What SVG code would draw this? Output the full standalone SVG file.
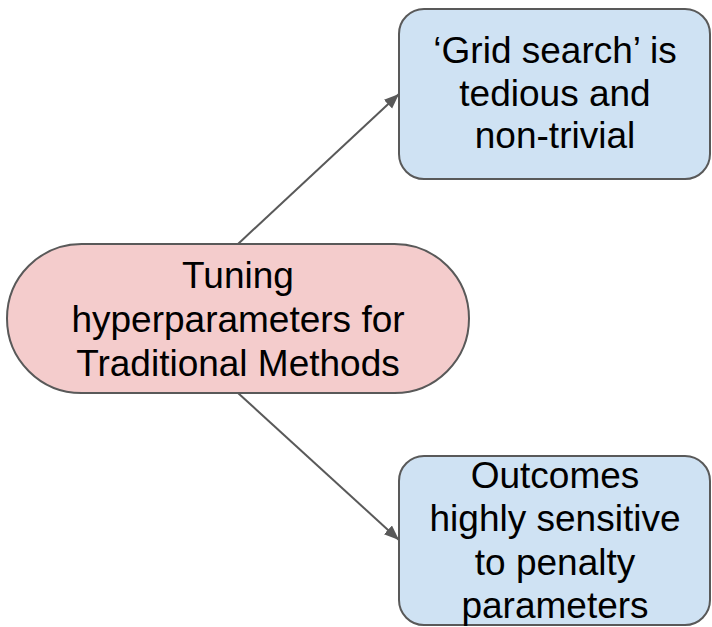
<svg xmlns="http://www.w3.org/2000/svg" width="712" height="627" viewBox="0 0 712 627">
  <style>
    .lbl { font-family: "Liberation Sans", Arial, sans-serif; font-size: 37px; fill: #000000; text-anchor: middle; }
    .pink { fill: #f4cccc; stroke: #595959; stroke-width: 2; }
    .blue { fill: #cfe2f3; stroke: #595959; stroke-width: 2; }
    .conn { stroke: #595959; stroke-width: 2; fill: none; }
  </style>
  <defs>
    <marker id="arrow" markerUnits="userSpaceOnUse" markerWidth="16" markerHeight="14" refX="15" refY="6" orient="auto">
      <path d="M0,0 L15,6 L0,12 z" fill="#595959"/>
    </marker>
  </defs>
  <rect width="712" height="627" fill="#ffffff"/>
  <g id="connectors">
    <line class="conn" x1="238" y1="244" x2="399" y2="94" marker-end="url(#arrow)"/>
    <line class="conn" x1="238" y1="393" x2="399" y2="540" marker-end="url(#arrow)"/>
  </g>
  <g id="node-tuning">
    <rect class="pink" x="7" y="244" width="462" height="149" rx="74.5" ry="74.5"/>
    <text class="lbl" x="238" y="288">Tuning</text>
    <text class="lbl" x="238" y="332">hyperparameters for</text>
    <text class="lbl" x="238" y="376">Traditional Methods</text>
  </g>
  <g id="node-grid">
    <rect class="blue" x="399" y="9" width="311" height="170" rx="25" ry="25"/>
    <text class="lbl" x="555" y="63">‘Grid search’ is</text>
    <text class="lbl" x="555" y="106">tedious and</text>
    <text class="lbl" x="555" y="148">non-trivial</text>
  </g>
  <g id="node-outcomes">
    <rect class="blue" x="399" y="456" width="311" height="169" rx="25" ry="25"/>
    <text class="lbl" x="555" y="488">Outcomes</text>
    <text class="lbl" x="555" y="531">highly sensitive</text>
    <text class="lbl" x="555" y="575">to penalty</text>
    <text class="lbl" x="555" y="618">parameters</text>
  </g>
</svg>
